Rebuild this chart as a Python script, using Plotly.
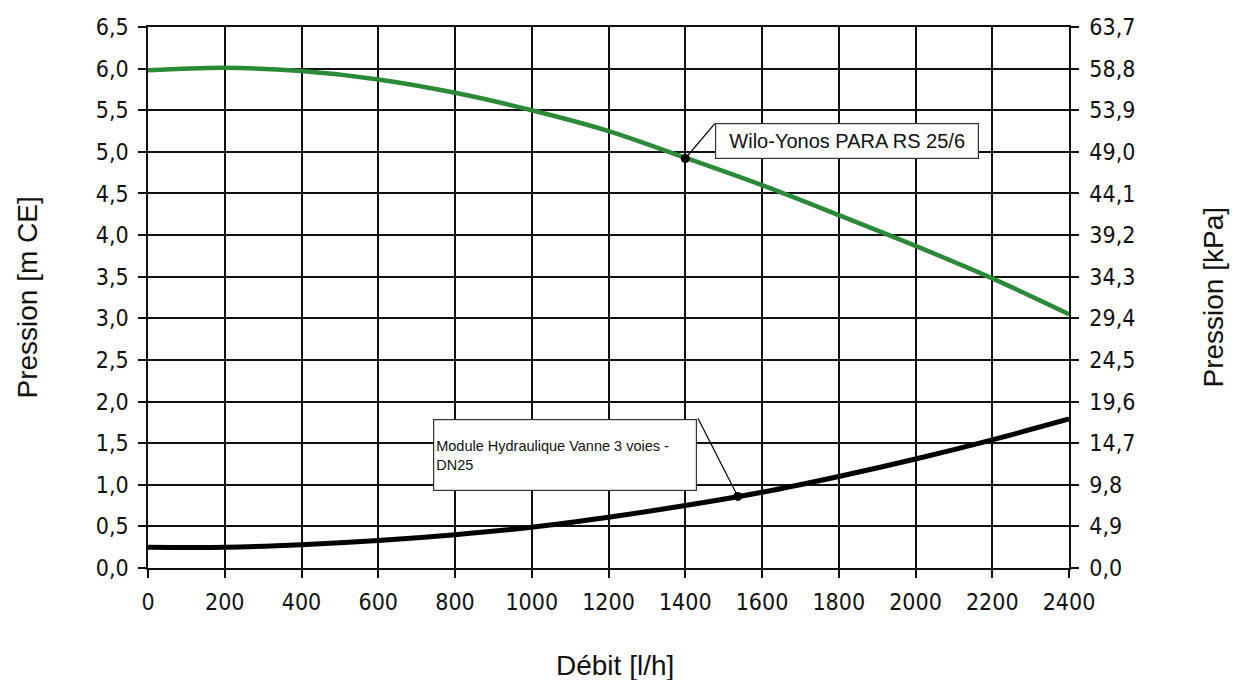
import plotly.graph_objects as go

# Data
debit = [0, 200, 400, 600, 800, 1000, 1200, 1400, 1600, 1800, 2000, 2200, 2400]
wilo_pression = [5.98, 6.01, 5.97, 5.87, 5.71, 5.50, 5.25, 4.93, 4.60, 4.24, 3.87, 3.48, 3.05]
module_pression = [0.25, 0.25, 0.28, 0.33, 0.40, 0.49, 0.61, 0.75, 0.91, 1.10, 1.31, 1.54, 1.79]

wilo_label = "Wilo-Yonos PARA RS 25/6"
wilo_marker = (1400, 4.92)
module_label = "Module Hydraulique Vanne 3 voies -<br>DN25"
module_marker = (1537, 0.86)

x_ticks = list(range(0, 2401, 200))
y_ticks = [i * 0.5 for i in range(14)]
y2_ticks = [i * 4.9 for i in range(14)]

def fr(v):
    return f"{v:.1f}".replace(".", ",")

tick_font = dict(family="Liberation Sans Narrow, DejaVu Sans Condensed, sans-serif", size=23, color="#111111")
title_font = dict(family="Liberation Sans, Arial, sans-serif", size=28, color="#111111")

fig = go.Figure()
fig.add_trace(go.Scatter(x=debit, y=wilo_pression, mode="lines",
                         line=dict(color="#2a8a38", width=4.5, shape="spline"),
                         showlegend=False, hoverinfo="skip"))
fig.add_trace(go.Scatter(x=debit, y=module_pression, mode="lines",
                         line=dict(color="#000000", width=5, shape="spline"),
                         showlegend=False, hoverinfo="skip"))
fig.add_trace(go.Scatter(x=[wilo_marker[0], module_marker[0]], y=[wilo_marker[1], module_marker[1]],
                         mode="markers", marker=dict(color="black", size=9),
                         showlegend=False, hoverinfo="skip"))
# invisible trace for the right axis
fig.add_trace(go.Scatter(x=[0], y=[0], yaxis="y2", mode="markers",
                         marker=dict(opacity=0), showlegend=False, hoverinfo="skip"))

# leader lines
fig.add_shape(type="line", xref="x", yref="y", x0=wilo_marker[0], y0=wilo_marker[1],
              x1=1477, y1=5.34, line=dict(color="black", width=1.2))
fig.add_shape(type="line", xref="x", yref="y", x0=module_marker[0], y0=module_marker[1],
              x1=1433, y1=1.80, line=dict(color="black", width=1.2))

fig.add_annotation(x=1822, y=5.13, xref="x", yref="y", text=wilo_label, showarrow=False,
                   font=dict(family="Liberation Sans, Arial, sans-serif", size=20, color="#111111"),
                   bgcolor="white", bordercolor="#333333", borderwidth=1.2,
                   width=258, height=30, borderpad=2, align="center")
fig.add_annotation(x=1086, y=1.36, xref="x", yref="y", text=module_label, showarrow=False,
                   font=dict(family="Liberation Sans, Arial, sans-serif", size=14.5, color="#111111"),
                   bgcolor="white", bordercolor="#333333", borderwidth=1.2,
                   width=258, height=66, borderpad=2, align="left", valign="middle")

# axis titles
fig.add_annotation(xref="paper", yref="paper", x=0, y=0.5, xshift=-121, xanchor="center",
                   yanchor="middle", text="Pression [m CE]",
                   textangle=-90, showarrow=False, font=title_font)
fig.add_annotation(xref="paper", yref="paper", x=1, y=0.5, xshift=144, xanchor="center",
                   yanchor="middle", text="Pression [kPa]",
                   textangle=-90, showarrow=False, font=title_font)
fig.add_annotation(xref="paper", yref="paper", x=0.507, y=0, yshift=-97, xanchor="center",
                   yanchor="middle", text="Débit [l/h]",
                   showarrow=False, font=title_font)

fig.update_layout(
    width=1239, height=680,
    margin=dict(l=140, r=178, t=19, b=120, autoexpand=False),
    paper_bgcolor="white", plot_bgcolor="white",
    xaxis=dict(range=[0, 2400], tickvals=x_ticks, ticktext=[str(v) for v in x_ticks],
               showgrid=True, gridcolor="#111111", gridwidth=1.5,
               showline=True, linecolor="#111111", linewidth=1.5, mirror=True,
               ticks="outside", ticklen=8, tickcolor="#111111", tickwidth=1.5,
               ticklabelstandoff=5, automargin=False,
               tickfont=tick_font, zeroline=False, fixedrange=True),
    yaxis=dict(range=[0, 6.5], tickvals=y_ticks, ticktext=[fr(v) for v in y_ticks],
               showgrid=True, gridcolor="#111111", gridwidth=1.5,
               showline=True, linecolor="#111111", linewidth=1.5,
               ticks="outside", ticklen=8, tickcolor="#111111", tickwidth=1.5,
               ticklabelstandoff=5, automargin=False,
               tickfont=tick_font, zeroline=False),
    yaxis2=dict(range=[0, 63.7], overlaying="y", side="right",
                tickvals=y2_ticks, ticktext=[fr(v) for v in y2_ticks],
                showgrid=False, showline=True, linecolor="#111111", linewidth=1.5,
                ticks="outside", ticklen=8, tickcolor="#111111", tickwidth=1.5,
                ticklabelstandoff=6, automargin=False,
                tickfont=tick_font, zeroline=False),
)

fig.write_html("out.html")
